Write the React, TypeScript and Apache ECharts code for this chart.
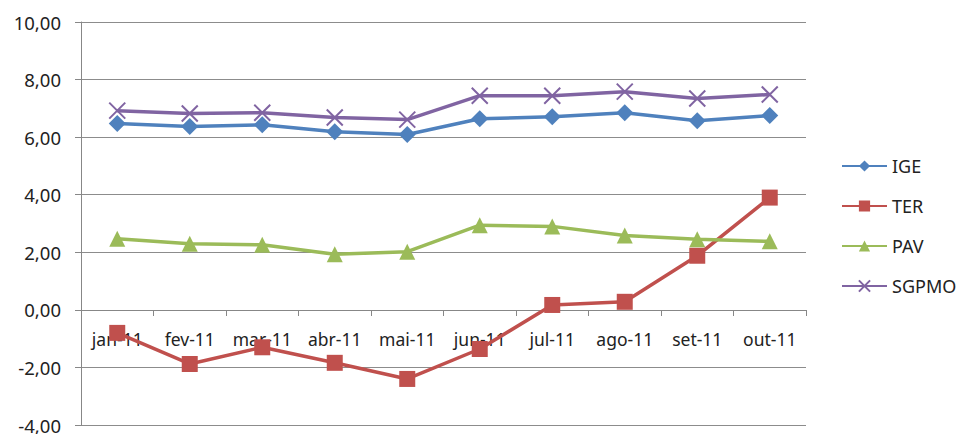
import React, { useEffect, useRef } from "react";
import * as echarts from "echarts";

const categories = ["jan-11", "fev-11", "mar-11", "abr-11", "mai-11", "jun-11", "jul-11", "ago-11", "set-11", "out-11"];
const igeValues = [6.47, 6.37, 6.43, 6.19, 6.09, 6.64, 6.71, 6.85, 6.57, 6.75];
const terValues = [-0.8, -1.88, -1.3, -1.84, -2.4, -1.36, 0.17, 0.28, 1.88, 3.9];
const pavValues = [2.47, 2.3, 2.26, 1.93, 2.02, 2.94, 2.9, 2.58, 2.45, 2.38];
const sgpmoValues = [6.92, 6.82, 6.85, 6.68, 6.61, 7.44, 7.44, 7.58, 7.34, 7.48];
const seriesNames = ["IGE", "TER", "PAV", "SGPMO"];
const yMin = -4;
const yMax = 10;

const FONT = "'Noto Sans', 'Liberation Sans', sans-serif";

export default function App() {
  const ref = useRef<HTMLDivElement>(null);
  useEffect(() => {
    document.body.style.margin = "0";
    const chart = echarts.init(ref.current!, undefined, { renderer: "svg" });
    const gridTop = 22;
    const gridBottom = 9;
    const plotH = 434 - gridTop - gridBottom;
    const zeroOffset = -Math.round((plotH * (0 - yMin)) / (yMax - yMin));
    const mk = (name: string, data: number[], color: string, symbol: string, size: number, extra: any = {}) => ({
      name,
      type: "line",
      data,
      symbol,
      symbolSize: size,
      showAllSymbol: true,
      lineStyle: { color, width: 3.5 },
      itemStyle: { color, ...extra },
      z: 3,
    });
    chart.setOption({
      animation: false,
      backgroundColor: "#ffffff",
      textStyle: { fontFamily: FONT },
      grid: { left: 81, right: 155, top: gridTop, bottom: gridBottom, containLabel: false, outerBoundsMode: "none" },
      legend: {
        orient: "vertical",
        left: 836,
        top: 152,
        itemWidth: 45,
        itemHeight: 14,
        itemGap: 22,
        data: seriesNames,
        textStyle: { fontFamily: FONT, fontSize: 18, color: "#222" },
      },
      xAxis: {
        type: "category",
        data: categories,
        boundaryGap: true,
        position: "bottom",
        offset: zeroOffset,
        axisLine: { show: true, onZero: false, lineStyle: { color: "#878787", width: 1 } },
        axisTick: { show: true, inside: false, length: 6, lineStyle: { color: "#878787" } },
        axisLabel: { interval: 0, margin: 20, fontSize: 17.5, color: "#222", fontFamily: FONT, hideOverlap: false },
        splitLine: { show: false },
        z: 2,
      },
      yAxis: {
        type: "value",
        min: yMin,
        max: yMax,
        interval: 2,
        axisLine: { show: true, lineStyle: { color: "#878787" } },
        axisTick: { show: true, length: 6, lineStyle: { color: "#878787" } },
        axisLabel: {
          fontSize: 18.5,
          color: "#222",
          fontFamily: FONT,
          margin: 20,
          formatter: (v: number) => v.toFixed(2).replace(".", ","),
        },
        splitLine: { show: true, lineStyle: { color: "#8c8c8c", width: 1 } },
      },
      series: [
        mk("IGE", igeValues, "#4F81BD", "diamond", 17),
        mk("TER", terValues, "#C0504D", "rect", 16),
        mk("PAV", pavValues, "#9BBB59", "triangle", 16),
        mk("SGPMO", sgpmoValues, "#8064A2", "path://M0,0L10,10M10,0L0,10", 16, {
          borderColor: "#8064A2",
          borderWidth: 2,
        }),
      ],
    });
    return () => chart.dispose();
  }, []);
  return <div ref={ref} style={{ width: 961, height: 434 }} />;
}
